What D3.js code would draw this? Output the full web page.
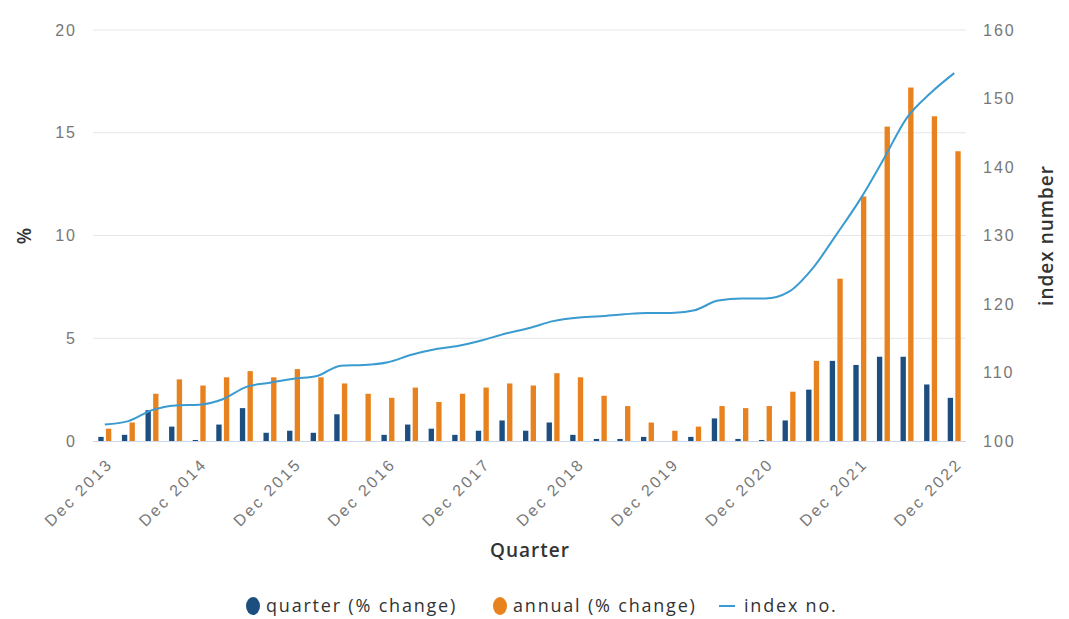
<!DOCTYPE html>
<html>
<head>
<meta charset="utf-8">
<script src="https://cdn.jsdelivr.net/npm/d3@7"></script>
<style>
  body { margin: 0; background: #fff; }
  svg { display: block; font-family: 'Open Sans', sans-serif; }
  .axis text { fill: #777; font-size: 16px; letter-spacing: 2px; }
  .axis--x text { letter-spacing: 2.5px; }
  .axis path, .axis line { display: none; }
  .grid line { stroke: #e6e6e6; }
  .title { fill: #333; font-size: 19px; font-weight: 600; letter-spacing: 1px; }
</style>
</head>
<body>
<svg id="chart" width="1069" height="619"></svg>
<script>
// DATA
const quarters = [
  'Dec 2013', 'Mar 2014', 'Jun 2014', 'Sep 2014',
  'Dec 2014', 'Mar 2015', 'Jun 2015', 'Sep 2015',
  'Dec 2015', 'Mar 2016', 'Jun 2016', 'Sep 2016',
  'Dec 2016', 'Mar 2017', 'Jun 2017', 'Sep 2017',
  'Dec 2017', 'Mar 2018', 'Jun 2018', 'Sep 2018',
  'Dec 2018', 'Mar 2019', 'Jun 2019', 'Sep 2019',
  'Dec 2019', 'Mar 2020', 'Jun 2020', 'Sep 2020',
  'Dec 2020', 'Mar 2021', 'Jun 2021', 'Sep 2021',
  'Dec 2021', 'Mar 2022', 'Jun 2022', 'Sep 2022',
  'Dec 2022'
];
const quarterChange = [
  0.2, 0.3, 1.5, 0.7, 0.05, 0.8, 1.6, 0.4, 0.5, 0.4,
  1.3, 0, 0.3, 0.8, 0.6, 0.3, 0.5, 1.0, 0.5, 0.9,
  0.3, 0.1, 0.1, 0.2, 0, 0.2, 1.1, 0.1, 0.05, 1.0,
  2.5, 3.9, 3.7, 4.1, 4.1, 2.75, 2.1
];
const annualChange = [
  0.6, 0.9, 2.3, 3.0, 2.7, 3.1, 3.4, 3.1, 3.5, 3.1,
  2.8, 2.3, 2.1, 2.6, 1.9, 2.3, 2.6, 2.8, 2.7, 3.3,
  3.1, 2.2, 1.7, 0.9, 0.5, 0.7, 1.7, 1.6, 1.7, 2.4,
  3.9, 7.9, 11.9, 15.3, 17.2, 15.8, 14.1
];
const indexNo = [
  102.4, 102.9, 104.5, 105.2, 105.3, 106.1, 107.9, 108.5, 109.1, 109.5,
  111.0, 111.1, 111.5, 112.6, 113.4, 113.9, 114.7, 115.7, 116.5, 117.5,
  118.0, 118.2, 118.5, 118.7, 118.7, 119.1, 120.5, 120.8, 120.8, 121.8,
  125.2, 130.1, 135.2, 141.1, 147.2, 150.8, 153.7
];
const pctTicks = [0, 5, 10, 15, 20];
const indexTicks = [100, 110, 120, 130, 140, 150, 160];

const seriesColors = { quarter: '#1c4f7f', annual: '#e8821e', index: '#3a9bd0' };

// SETUP
const svg = d3.select('#chart');
const plot = { left: 93, right: 966, top: 30, bottom: 441 };

const x = d3.scaleBand()
  .domain(quarters)
  .range([plot.left, plot.right])
  .paddingInner(0.45)
  .paddingOuter(0.225);
const xInner = d3.scaleBand()
  .domain(['quarter', 'annual'])
  .range([0, x.bandwidth()])
  .paddingInner(0.3);
const yPct = d3.scaleLinear().domain([0, 20]).range([plot.bottom, plot.top]);
const yIdx = d3.scaleLinear().domain([100, 160]).range([plot.bottom, plot.top]);

// GRID
svg.append('g')
  .attr('class', 'grid')
  .selectAll('line')
  .data(pctTicks.slice(1))
  .join('line')
  .attr('x1', plot.left)
  .attr('x2', plot.right)
  .attr('y1', d => yPct(d))
  .attr('y2', d => yPct(d));

// AXES
svg.append('g')
  .attr('class', 'axis axis--left')
  .attr('transform', 'translate(' + plot.left + ',0)')
  .call(d3.axisLeft(yPct).tickValues(pctTicks).tickSize(0).tickPadding(16));

svg.append('g')
  .attr('class', 'axis axis--right')
  .attr('transform', 'translate(' + plot.right + ',0)')
  .call(d3.axisRight(yIdx).tickValues(indexTicks).tickSize(0).tickPadding(17));

const xAxis = svg.append('g')
  .attr('class', 'axis axis--x')
  .attr('transform', 'translate(0,' + plot.bottom + ')')
  .call(d3.axisBottom(x)
    .tickValues(quarters.filter((d, i) => i % 4 === 0))
    .tickSize(0));
xAxis.selectAll('text')
  .attr('y', 0)
  .attr('dy', 0)
  .attr('transform', 'translate(9,24) rotate(-45)')
  .style('text-anchor', 'end');

// baseline
svg.append('line')
  .attr('x1', plot.left)
  .attr('x2', plot.right)
  .attr('y1', plot.bottom + 0.5)
  .attr('y2', plot.bottom + 0.5)
  .attr('stroke', '#ccd6eb');

// AXIS TITLES
svg.append('text')
  .attr('class', 'title')
  .attr('transform', 'translate(31,' + (plot.top + plot.bottom) / 2 + ') rotate(-90)')
  .attr('text-anchor', 'middle')
  .text('%');
svg.append('text')
  .attr('class', 'title')
  .attr('transform', 'translate(1053,' + (plot.top + plot.bottom) / 2 + ') rotate(-90)')
  .attr('text-anchor', 'middle')
  .text('index number');
svg.append('text')
  .attr('class', 'title')
  .attr('x', 530)
  .attr('y', 557)
  .attr('text-anchor', 'middle')
  .text('Quarter');

// BARS
const groups = svg.append('g')
  .selectAll('g')
  .data(quarters.map((q, i) => ({ q: q, quarter: quarterChange[i], annual: annualChange[i] })))
  .join('g')
  .attr('transform', d => 'translate(' + x(d.q) + ',0)');

groups.selectAll('rect')
  .data(d => ['quarter', 'annual'].map(k => ({ key: k, value: d[k] })))
  .join('rect')
  .attr('x', d => xInner(d.key))
  .attr('y', d => yPct(d.value))
  .attr('width', xInner.bandwidth())
  .attr('height', d => plot.bottom - yPct(d.value))
  .attr('fill', d => seriesColors[d.key]);

// INDEX LINE
const line = d3.line()
  .x((d, i) => x(quarters[i]) + x.bandwidth() / 2)
  .y(d => yIdx(d))
  .curve(d3.curveMonotoneX);
svg.append('path')
  .datum(indexNo)
  .attr('d', line)
  .attr('fill', 'none')
  .attr('stroke', seriesColors.index)
  .attr('stroke-width', 2);

// LEGEND
const legendItems = [
  { label: 'quarter (% change)', key: 'quarter', x: 245, type: 'dot' },
  { label: 'annual (% change)', key: 'annual', x: 492, type: 'dot' },
  { label: 'index no.', key: 'index', x: 718, type: 'line' }
];
const legend = svg.append('g').attr('transform', 'translate(0,606)');
legendItems.forEach(function (item) {
  const g = legend.append('g').attr('transform', 'translate(' + item.x + ',0)');
  if (item.type === 'dot') {
    g.append('ellipse').attr('cx', 8).attr('cy', 0).attr('rx', 7).attr('ry', 9)
      .attr('fill', seriesColors[item.key]);
  } else {
    g.append('line').attr('x1', 1).attr('x2', 17).attr('y1', 0).attr('y2', 0)
      .attr('stroke', seriesColors[item.key]).attr('stroke-width', 2);
  }
  g.append('text')
    .attr('x', item.type === 'dot' ? 21 : 26)
    .attr('y', 0)
    .attr('dy', '0.35em')
    .attr('fill', '#333')
    .style('font-size', '18px')
    .style('letter-spacing', '1.8px')
    .text(item.label);
});
</script>
</body>
</html>
